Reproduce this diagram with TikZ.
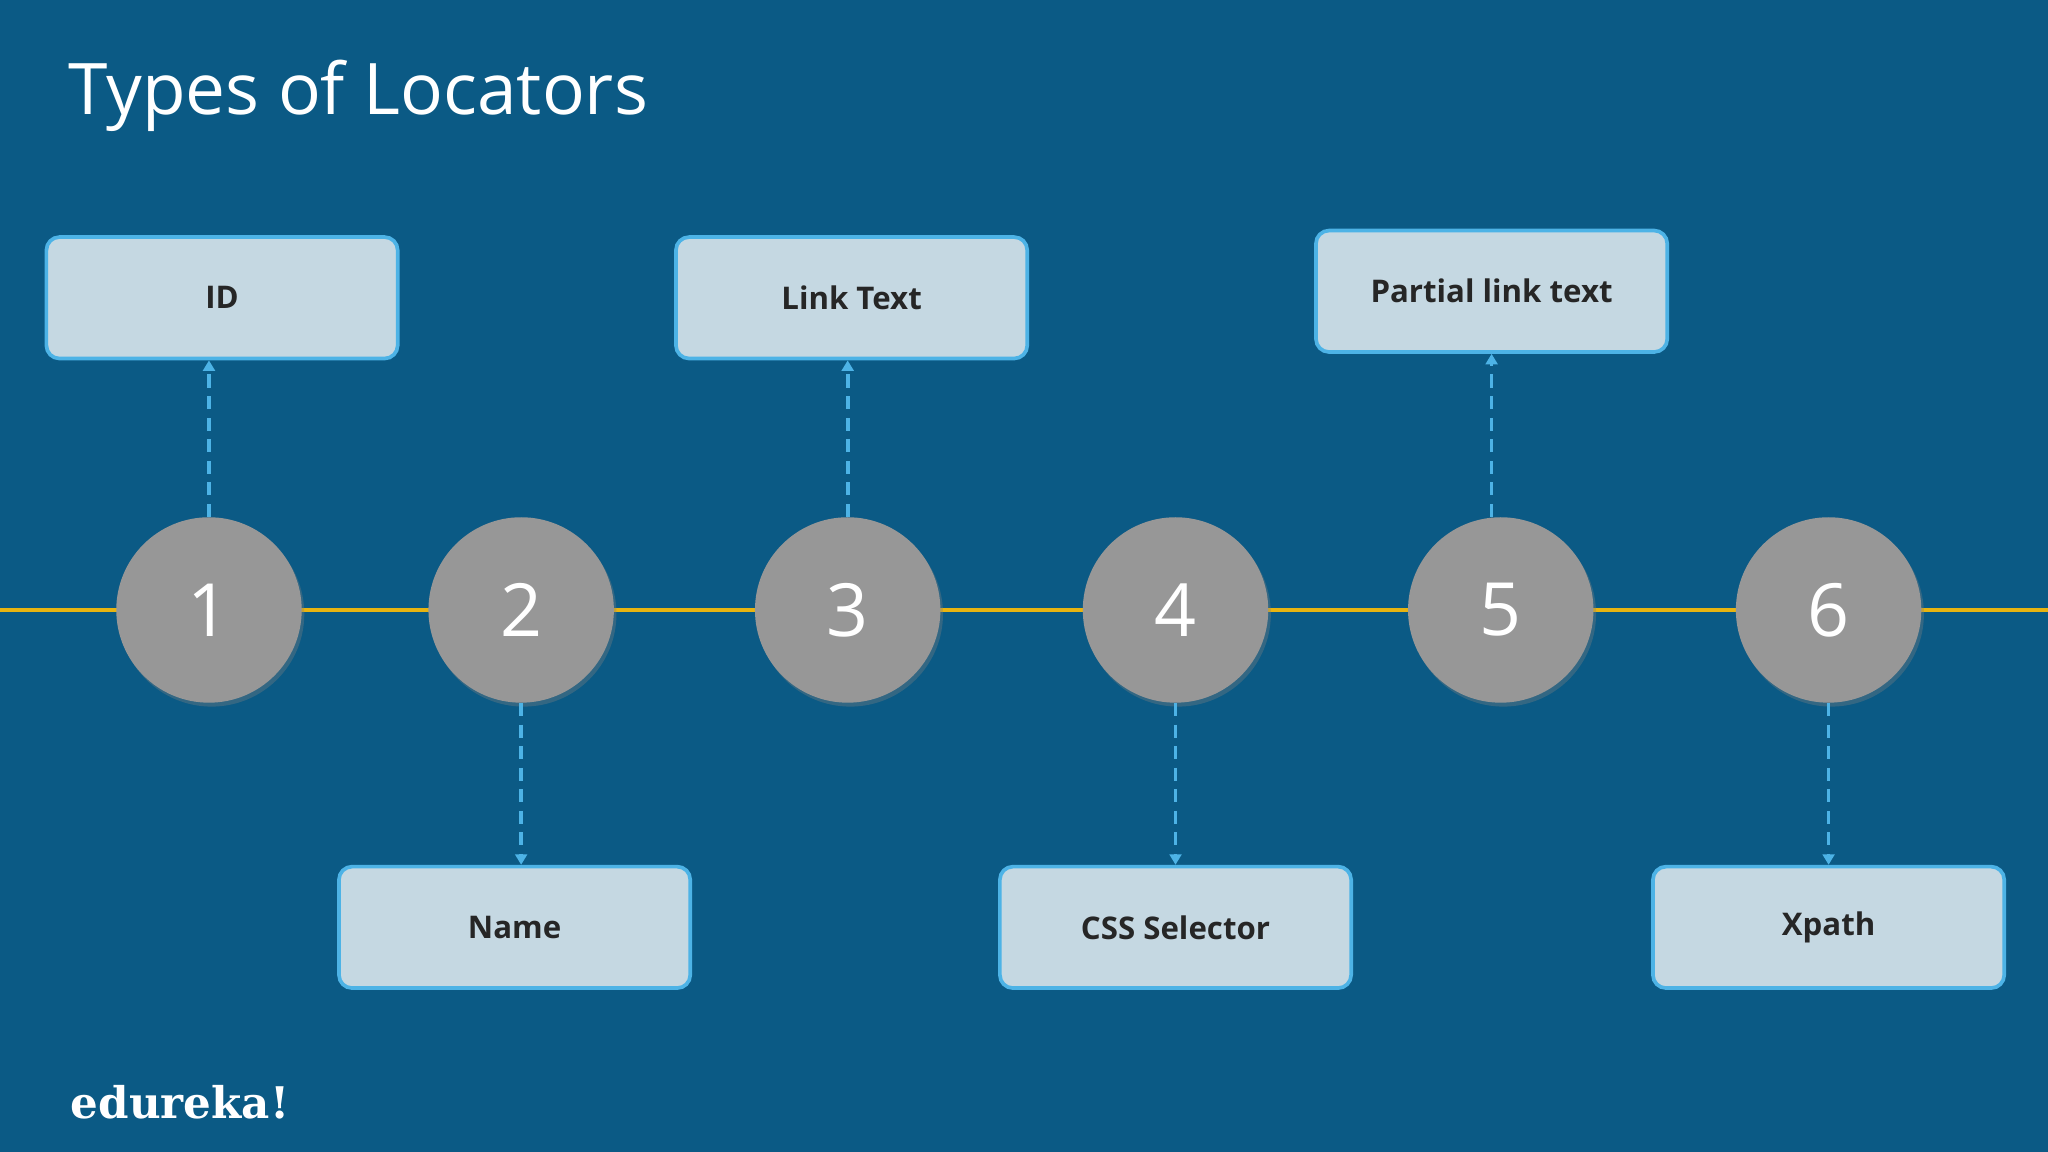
\documentclass[tikz,border=0pt]{standalone}
\usepackage{fontspec}
\setmainfont{Open Sans}
\newfontfamily\logofont{DejaVu Serif}
\usetikzlibrary{arrows.meta,positioning,shadows}
\definecolor{bgblue}{HTML}{0B5A85}
\definecolor{boxfill}{HTML}{C5D8E2}
\definecolor{boxline}{HTML}{4DB3E6}
\definecolor{ballgray}{HTML}{979797}
\definecolor{lineyellow}{HTML}{E8B411}
\tikzset{
  ball/.style={circle, fill=ballgray, minimum size=2.84cm, inner sep=0pt, text=white,
    font=\fontsize{32}{32}\selectfont, drop shadow={shadow xshift=0.04cm, shadow yshift=-0.06cm, opacity=0.35}},
  locator/.style={draw=boxline, line width=1.6pt, fill=boxfill, rounded corners=0.2cm,
    minimum width=5.38cm, minimum height=1.86cm, font=\fontsize{13.6}{14}\selectfont\bfseries, text=black!85},
  link/.style={draw=boxline, line width=1.6pt, dash pattern=on 0.2cm off 0.13cm, -{Triangle[length=0.16cm,width=0.18cm]}}
}
\begin{document}
\begin{tikzpicture}[x=0.02cm, y=-0.02cm]
  \fill[bgblue] (0,0) rectangle (1568,882);
  \useasboundingbox (0,0) rectangle (1568,882);
  \node[anchor=base west, inner sep=0pt, text=white, font=\fontsize{31}{31}\selectfont] (title) at (52,88) {Types of Locators};
  \node[anchor=base west, inner sep=0pt, text=white, font=\fontsize{19}{19}\selectfont\logofont\bfseries] (logo) at (54,856) {edureka!};

  \coordinate (left) at (0,467);
  \coordinate (right) at (1568,467);
  \draw[lineyellow, line width=2pt] (left) -- (right);

  \node[ball] (c1) at (160,467) {1};
  \node[ball] (c2) at (399,467) {2};
  \node[ball] (c3) at (649,467) {3};
  \node[ball] (c4) at (900,467) {4};
  \node[ball] (c5) at (1149,467) {5};
  \node[ball] (c6) at (1400,467) {6};

  \node[locator] (id) at (170,228) {ID};
  \node[locator] (linktext) at (652,228) {Link Text};
  \node[locator] (partial) at (1142,223) {Partial link text};
  \node[locator] (name) at (394,710) {Name};
  \node[locator] (css) at (900,710) {CSS Selector};
  \node[locator] (xpath) at (1400,710) {Xpath};

  \draw[link] (c1) -- (c1 |- id.south);
  \draw[link] (c3) -- (c3 |- linktext.south);
  \draw[link] (c5.north -| partial) -- (partial.south);
  \draw[link] (c2) -- (c2 |- name.north);
  \draw[link] (c4) -- (c4 |- css.north);
  \draw[link] (c6) -- (c6 |- xpath.north);
\end{tikzpicture}
\end{document}
